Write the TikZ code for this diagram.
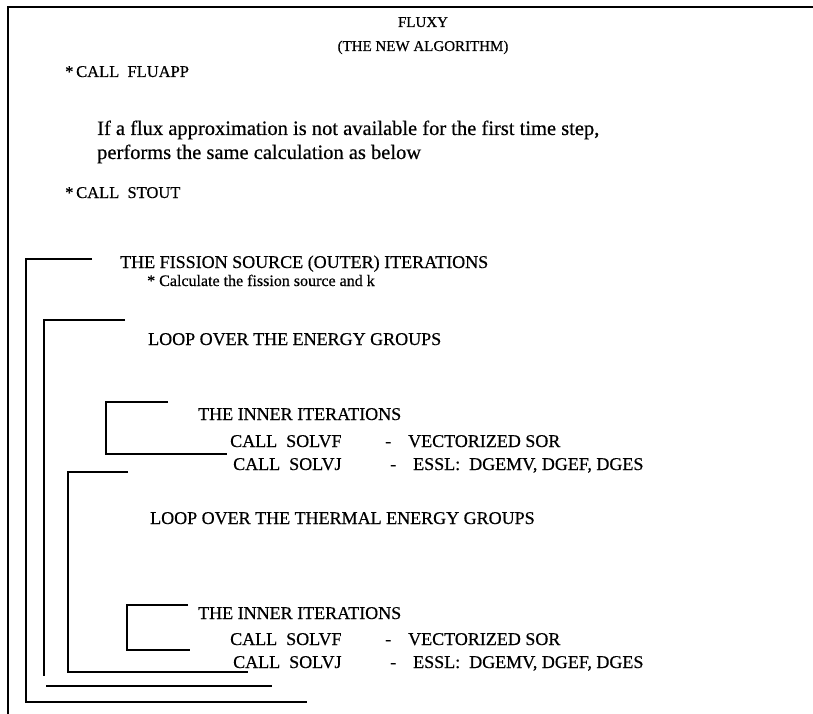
\documentclass[tikz,border=0pt]{standalone}
\usepackage{fontspec}
\setmainfont{Liberation Serif}[FakeBold=0.5]
\begin{document}
\begin{tikzpicture}[
  x=1pt, y=-1pt,
  txt/.style={anchor=west, inner sep=0pt, text height=12pt, text depth=0pt,
              font=\fontsize{18}{21}\selectfont},
  ttl/.style={txt, anchor=center, text height=10pt, font=\fontsize{15}{18}\selectfont},
  call/.style={txt, font=\fontsize{16.5}{19}\selectfont},
  note/.style={txt, text height=14pt, text depth=4pt, font=\fontsize{20.5}{23}\selectfont},
  small/.style={txt, text height=11pt, text depth=3pt, font=\fontsize{16}{19}\selectfont},
  frame/.style={line width=2.8pt},
  brk/.style={line width=2.4pt}
]
\useasboundingbox (0,0) rectangle (813,714);
% frame (open at right and bottom)
\draw[frame] (813,7) -- (8,7) -- (8,714);
% heading
\node[ttl] (name) at (423,22) {FLUXY};
\node[ttl] (sub)  at (423,46) {(THE NEW ALGORITHM)};
% calls before the iterations
\node[call] (fluapp) at (65,71)  {*\,CALL~ FLUAPP};
\node[note] (note1)  at (97,130) {If a flux approximation is not available for the first time step,};
\node[note] (note2)  at (97,154) {performs the same calculation as below};
\node[call] (stout)  at (65,192) {*\,CALL~ STOUT};
% outer iterations
\node[txt]   (outer) at (120,262) {THE FISSION SOURCE (OUTER) ITERATIONS};
\node[small] (calck) at (147,282) {* Calculate the fission source and k};
\node[txt]   (loopE) at (148,339) {LOOP OVER THE ENERGY GROUPS};
% inner iterations, all groups
\node[txt] (innerA) at (198,414) {THE INNER ITERATIONS};
\node[txt] (solvfA) at (230,441) {CALL~ SOLVF};
\node[txt] (dashFA) at (385,441) {-};
\node[txt] (sorA)   at (408,441) {VECTORIZED SOR};
\node[txt] (solvjA) at (233,464) {CALL~ SOLVJ};
\node[txt] (dashJA) at (390,464) {-};
\node[txt] (esslA)  at (413,464) {ESSL:~ DGEMV, DGEF, DGES};
% thermal groups
\node[txt] (loopT)  at (150,518) {LOOP OVER THE THERMAL ENERGY GROUPS};
\node[txt] (innerB) at (198,613) {THE INNER ITERATIONS};
\node[txt] (solvfB) at (230,639) {CALL~ SOLVF};
\node[txt] (dashFB) at (385,639) {-};
\node[txt] (sorB)   at (408,639) {VECTORIZED SOR};
\node[txt] (solvjB) at (233,662) {CALL~ SOLVJ};
\node[txt] (dashJB) at (390,662) {-};
\node[txt] (esslB)  at (413,662) {ESSL:~ DGEMV, DGEF, DGES};
% loop brackets
\draw[brk] (92,259) -- (26,259) -- (26,702) -- (307,702);
\draw[brk] (125,320) -- (44,320) -- (44,676);
\draw[brk] (46,686) -- (272,686);
\draw[brk] (168,402) -- (106,402) -- (106,454) -- (227,454);
\draw[brk] (128,472) -- (68,472) -- (68,672) -- (248,672);
\draw[brk] (188,605) -- (127,605) -- (127,650) -- (190,650);
\end{tikzpicture}
\end{document}
